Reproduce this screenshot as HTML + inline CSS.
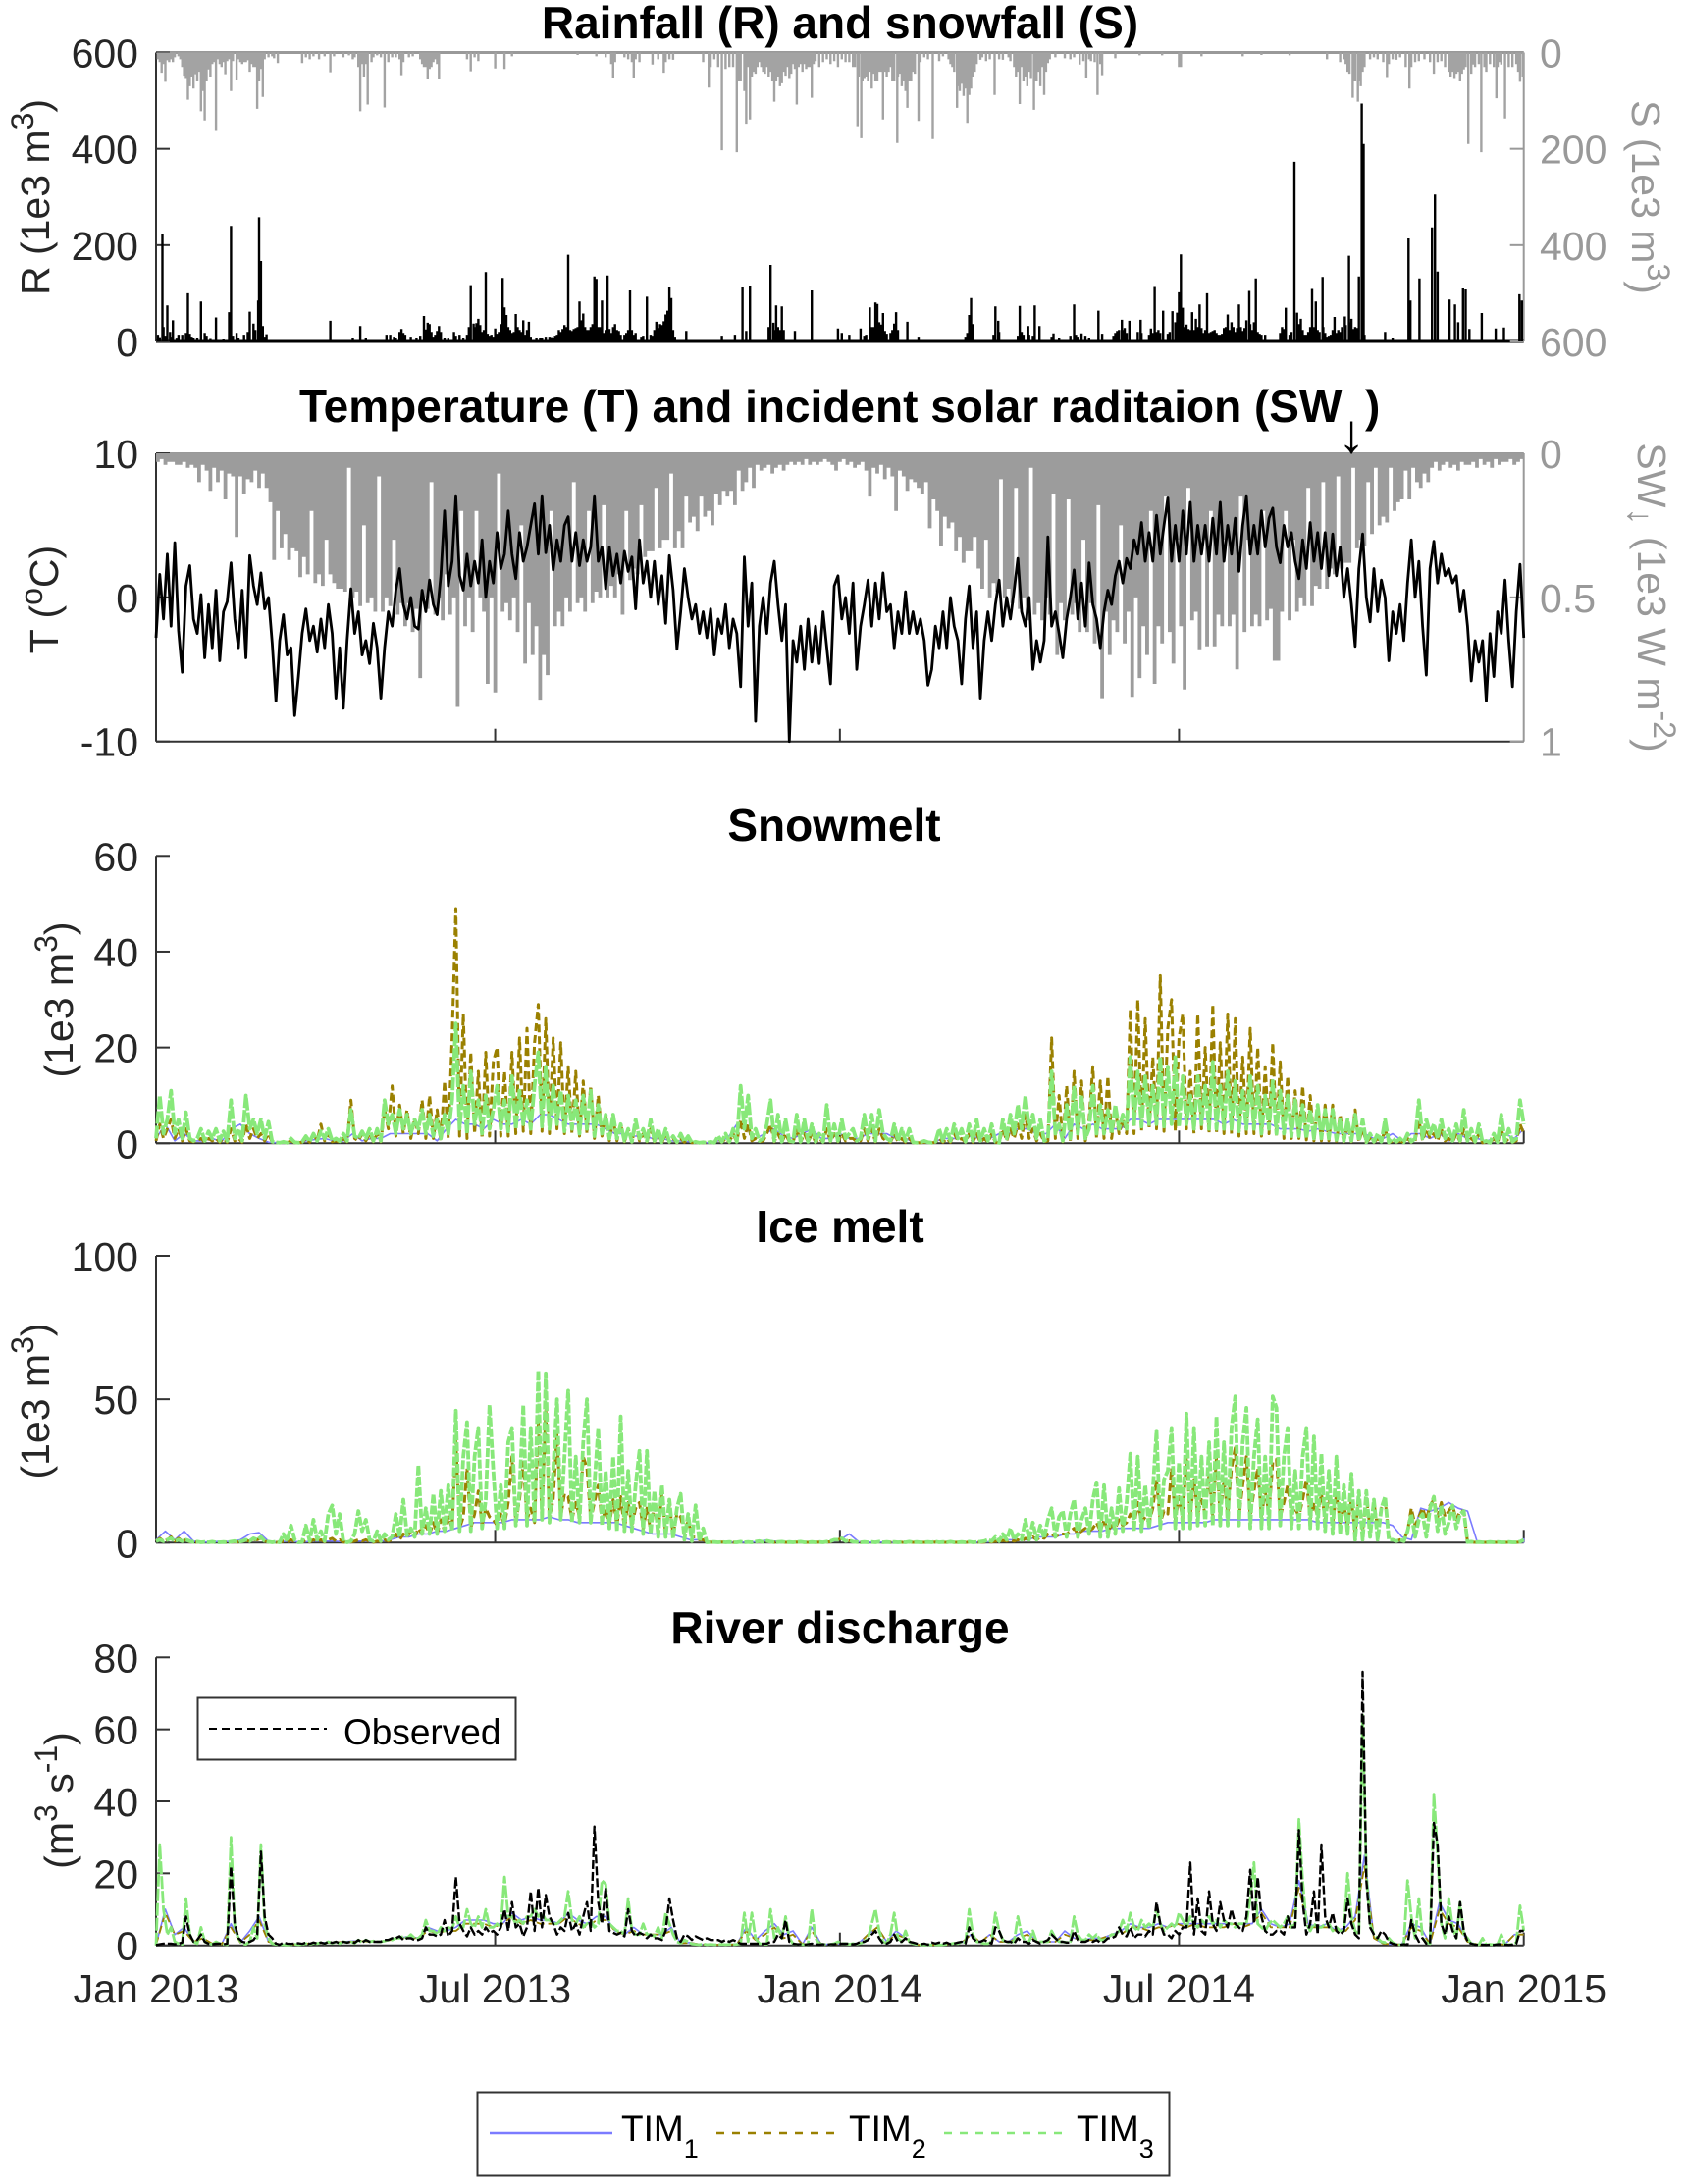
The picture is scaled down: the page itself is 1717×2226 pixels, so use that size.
<!DOCTYPE html>
<html lang="en">
<head>
<meta charset="utf-8">
<title>Rainfall, temperature, melt and river discharge 2013-2014</title>
<style>
html,body{margin:0;padding:0;background:#fff}
svg{display:block}
text{font-family:"Liberation Sans",Arial,sans-serif;fill:#262626}
.title{font-size:46px;font-weight:bold;fill:#000;text-anchor:middle}
.lab{font-size:41px;text-anchor:middle}
.grey{fill:#999}
.leg{font-size:37px;fill:#000}
</style>
</head>
<body>
<svg id="chart" xmlns="http://www.w3.org/2000/svg" width="1717" height="2226" viewBox="0 0 1717 2226">
<rect x="0" y="0" width="1717" height="2226" fill="#fff"/>
<g id="marks"></g>
<g id="axes"></g>

<text class="title" x="856" y="39">Rainfall (R) and snowfall (S)</text>
<text class="title" x="305" y="430" style="text-anchor:start">Temperature (T) and incident solar raditaion (SW</text>
<text x="1377" y="461" font-size="56" text-anchor="middle" style="fill:#000">↓</text>
<text class="title" x="1391" y="430" style="text-anchor:start">)</text>
<text class="title" x="850" y="857">Snowmelt</text>
<text class="title" x="856" y="1266">Ice melt</text>
<text class="title" x="856" y="1675">River discharge</text>

<text class="lab" transform="translate(50,201) rotate(-90)">R (1e3 m<tspan dy="-16" font-size="32">3</tspan><tspan dy="16">)</tspan></text>
<text class="lab grey" transform="translate(1663,201) rotate(90)">S (1e3 m<tspan dy="-16" font-size="32">3</tspan><tspan dy="16">)</tspan></text>
<text class="lab" transform="translate(59,611) rotate(-90)">T (<tspan dy="-16" font-size="32">o</tspan><tspan dy="16">C)</tspan></text>
<text class="lab grey" transform="translate(1669,609) rotate(90)">SW<tspan dy="10" font-size="36" style="fill:#999">↓</tspan><tspan dy="-10"> (1e3 W m</tspan><tspan dy="-16" font-size="32">-2</tspan><tspan dy="16">)</tspan></text>
<text class="lab" transform="translate(74,1019) rotate(-90)">(1e3 m<tspan dy="-16" font-size="32">3</tspan><tspan dy="16">)</tspan></text>
<text class="lab" transform="translate(50,1428) rotate(-90)">(1e3 m<tspan dy="-16" font-size="32">3</tspan><tspan dy="16">)</tspan></text>
<text class="lab" transform="translate(74,1835) rotate(-90)">(m<tspan dy="-16" font-size="32">3</tspan><tspan dy="16"> s</tspan><tspan dy="-16" font-size="32">-1</tspan><tspan dy="16">)</tspan></text>

<g>
<rect x="201.5" y="1730.5" width="324" height="63" fill="#fff" stroke="#333" stroke-width="2"/>
<line x1="213" y1="1762" x2="333" y2="1762" stroke="#000" stroke-width="2" stroke-dasharray="8 5"/>
<text class="leg" x="350" y="1778">Observed</text>
</g>

<g>
<rect x="486.5" y="2132.5" width="705" height="85" fill="#fff" stroke="#333" stroke-width="2"/>
<line x1="499" y1="2174" x2="624" y2="2174" stroke="#7b7bff" stroke-width="2.5"/>
<text class="leg" x="633" y="2182">TIM<tspan dy="17" font-size="27">1</tspan></text>
<line x1="730" y1="2174" x2="851" y2="2174" stroke="#9a8000" stroke-width="2.5" stroke-dasharray="8 8"/>
<text class="leg" x="865" y="2182">TIM<tspan dy="17" font-size="27">2</tspan></text>
<line x1="962" y1="2174" x2="1088" y2="2174" stroke="#88e87a" stroke-width="2.5" stroke-dasharray="8 8"/>
<text class="leg" x="1097" y="2182">TIM<tspan dy="17" font-size="27">3</tspan></text>
</g>
</svg>

<script>
// ---- tick data ----
const xTickDays = [0, 181, 365, 546, 730];
const xTickLabels = ["Jan 2013", "Jul 2013", "Jan 2014", "Jul 2014", "Jan 2015"];
const rainTicks = [0, 200, 400, 600];
const snowTicks = [0, 200, 400, 600];
const tempTicks = [-10, 0, 10];
const solarTicks = [0, 0.5, 1];
const snowmeltTicks = [0, 20, 40, 60];
const iceTicks = [0, 50, 100];
const dischargeTicks = [0, 20, 40, 60, 80];

// ---- sampling intervals (days between samples) ----
const denseStep = 2;
const coarseStep = 5;

// ---- rainfall / snowfall events: [day, 1e3 m3] ----
const rainEvents = [[1,14],[2,9],[3.4,224],[5,12],[6,75],[7.5,20],[9,44],[11,6],[14,14],[17,100],[18,16],[20,8],[24,83],[26,18],[29,5],[32,50],[36,4],[40,240],[39,61],[43,18],[47,14],[50,62],[52,37],[54.5,85],[55,258],[56,167],[57,32],[59,15],[93,43],[105,7],[109,32],[112,7],[123,14],[125,14],[128,7],[131,26],[132,18],[136,10],[139,8],[143,53],[144,25],[145,39],[146,36],[148,10],[151,32],[152,20],[156,6],[159,20],[162,14],[164,8],[167,30],[168,117],[169.5,37],[170,30],[171,38],[172,47],[173,34],[176,144],[178,12],[181,27],[183,20],[185,132],[186,71],[187,55],[189,24],[192,57],[193,30],[196,44],[197,14],[199,41],[205,8],[208,10],[211,9],[213,12],[215,24],[217,26],[218,34],[220,180],[222,22],[224,28],[226,83],[228,58],[229,30],[231,24],[233,36],[234,135],[235,130],[236,30],[238,85],[240,24],[241,137],[243,18],[245,36],[247,22],[250,14],[253,106],[254,24],[256,18],[262,93],[265,12],[267,41],[269,36],[272,56],[273,64],[274,112],[275,90],[283,22],[302,12],[309,14],[313,112],[315,22],[317,114],[327,30],[328,159],[329.5,39],[331,75],[334,73],[341,22],[350,106],[364,27],[366,18],[370,14],[376,27],[379,14],[381,71],[383,30],[384,81],[385,78],[387,35],[388,59],[390,16],[394,37],[395,61],[401,41],[407,10],[432,10],[434,55],[435,90],[436,36],[448,73],[449.5,43],[461,74],[462,20],[465.5,32],[469,75],[471.5,32],[479,17],[490,77],[494,17],[496,12],[503,64],[505,16],[514,24],[515.5,45],[517,28],[519.5,43],[525.5,45],[531,27],[533,113],[535,24],[537.5,64],[542.5,63],[545,60],[546,102],[547,181],[548,70],[550,35],[553,61],[555,47],[557,77],[559,18],[561,100],[563,20],[565,24],[567,14],[569,16],[572,56],[574,40],[576,20],[578,77],[580,22],[582,44],[583.5,105],[585,24],[587,131],[589,16],[592,14],[601,30],[603,70],[606,20],[607.6,373],[609,60],[611,47],[615,20],[617,109],[619,83],[621,20],[622.6,134],[625,10],[629,51],[632,20],[634.5,52],[636.7,178],[638,47],[640,30],[642,135],[643.5,494],[644.5,410],[656,20],[660,8],[668.5,214],[669.5,85],[674.3,131],[681,237],[682.6,305],[684,145],[690.4,87],[693.3,77],[695,40],[697.6,110],[699,108],[701,26],[707.6,59],[715,27],[719.4,29],[727.7,98],[729,85]];
const rainMinorEvents = [[4,30],[8,10],[12,14],[16,18],[19,10],[22,8],[27,12],[41,12],[44,8],[49,20],[53,24],[58,10],[127,10],[130,20],[133,14],[141,12],[147,20],[149,14],[150,22],[154,8],[160,12],[166,14],[174,20],[175,24],[177,16],[179,14],[180,10],[182,16],[184,36],[188,30],[190,18],[191,20],[194,24],[195,20],[198,24],[200,10],[203,8],[206,7],[210,10],[212,8],[214,14],[216,20],[219,30],[221,24],[223,26],[225,30],[227,44],[230,24],[232,30],[237,30],[239,18],[242,26],[244,30],[246,24],[248,14],[251,18],[252,24],[255,14],[259,10],[260,12],[264,14],[266,24],[268,28],[270,34],[271,42],[276,24],[277,10],[330,24],[332,30],[333,24],[335,24],[378,12],[382,30],[386,40],[389,22],[392,18],[393,24],[396,24],[433,18],[447,14],[450,20],[460,12],[463,14],[466,14],[468,12],[478,10],[482,8],[488,12],[491,14],[492,10],[498,8],[511,12],[512,18],[513,22],[516,24],[518,18],[524,20],[526,18],[530,14],[532,18],[534,20],[536,18],[540,16],[541,20],[544,40],[549,30],[551,26],[552,24],[554,24],[556,30],[558,28],[560,24],[562,18],[564,22],[566,18],[568,14],[570,28],[571,30],[573,24],[575,30],[577,28],[579,30],[581,28],[584,36],[586,40],[588,20],[590,14],[600,18],[602,26],[605,14],[610,36],[612,24],[613,14],[614,14],[616,30],[618,30],[620,24],[623,30],[624,18],[626,12],[627,14],[628,24],[630,18],[631,24],[633,30],[635,34],[637,40],[639,26],[641,28],[645,14]];
const snowEvents = [[1,14],[3,42],[5,61],[7,20],[9,20],[12,8],[14,30],[15,48],[16,55],[17,98],[18,70],[19,50],[20,75],[21,45],[22,60],[23,40],[24,122],[25,80],[26,141],[27,60],[28,35],[29,50],[32,163],[35,30],[37,45],[40,80],[43,58],[47,20],[50,40],[52,30],[54,117],[55,60],[57,92],[60,10],[65,22],[78,22],[82,14],[87,14],[93,41],[100,10],[105,14],[109,122],[111,50],[113,108],[115,20],[122,114],[124,20],[131,47],[135,10],[143,30],[145,56],[147,30],[151,56],[168,39],[172,18],[181,33],[186,34],[190,8],[225,5],[235,8],[244,52],[250,10],[255,53],[258,20],[265,25],[271,42],[276,15],[295,73],[302,203],[306,30],[310,207],[312,60],[314,80],[315,148],[316,30],[317,139],[322,20],[327,50],[330,102],[331,60],[333,70],[334,64],[336,48],[338,55],[342,108],[345,40],[348,30],[350,94],[354,30],[360,24],[364,30],[368,20],[372,30],[374.4,153],[376.4,178],[378,55],[380,60],[382,75],[384,60],[386,40],[388,139],[390,50],[393,60],[395.6,188],[398,70],[400,80],[401,115],[403,60],[407,142],[410,10],[414.6,180],[418,18],[425,30],[426,40],[427.5,115],[428,70],[429,80],[430,65],[431,90],[432,75],[433,146],[434,88],[435,75],[436,50],[440,15],[443,18],[447.6,88],[452,15],[456,18],[459,50],[461,107],[463,60],[465,70],[467,55],[468.6,119],[470,60],[472,70],[474,88],[476,22],[485,12],[493,25],[496.5,53],[499,18],[502.5,88],[505,47],[512,12],[525,6],[537,6],[546,30],[547,30],[558,8],[580,8],[590,5],[605,6],[625,14],[632,20],[636,40],[638.7,94],[640,60],[641.5,102],[643,70],[645,30],[652,14],[657,51],[662,15],[669,75],[672,20],[677,14],[682,44],[686,18],[690,40],[693,55],[696,60],[698,35],[700.4,190],[703,25],[707.3,207],[709,30],[715.4,95],[718,25],[720,137],[724,30],[728,61],[729.5,50]];
const snowMinorEvents = [[2,20],[4,24],[6,16],[8,14],[10,10],[13,14],[30,24],[31,20],[33,14],[34,24],[36,20],[38,18],[39,14],[41,18],[44,14],[45,20],[46,24],[48,20],[49,16],[51,24],[53,30],[56,34],[58,14],[62,8],[63,12],[80,10],[84,8],[90,8],[95,8],[103,6],[106,10],[108,30],[110,24],[112,24],[116,10],[118,6],[120,10],[126,10],[128,10],[130,14],[132,20],[137,8],[141,14],[142,24],[144,30],[146,34],[148,20],[149,14],[150,24],[166,14],[170,10],[240,10],[243,24],[245,20],[252,14],[254,20],[256,14],[268,14],[272,20],[274,14],[292,20],[296,30],[298,14],[300,30],[304,34],[308,30],[311,60],[318,50],[319,40],[320,44],[321,30],[323,30],[324,40],[325,44],[326,30],[328,40],[329,60],[332,50],[335,40],[337,30],[339,44],[340,24],[341,34],[343,30],[344,24],[346,24],[347,34],[349,30],[351,24],[352,18],[356,20],[358,14],[362,18],[366,14],[370,20],[373,30],[375,50],[377,60],[379,50],[381,40],[383,44],[385,60],[387,40],[389,40],[391,40],[392,30],[394,60],[396,50],[397,44],[399,60],[402,60],[404,40],[405,44],[408,20],[412,14],[420,8],[423,14],[424,24],[437,40],[438,24],[441,10],[445,14],[450,14],[455,10],[458,30],[460,40],[462,30],[464,50],[466,40],[469,60],[471,40],[473,30],[475,40],[477,14],[480,10],[488,14],[490,10],[495,18],[498,14],[501,20],[504,24],[634,14],[635,24],[637,44],[639,60],[642,60],[644,40],[648,14],[650,10],[655,20],[658,24],[660,14],[664,10],[667,30],[670,30],[674,18],[680,20],[684,20],[688,30],[691,50],[692,40],[694,44],[695,40],[697,44],[699,30],[702,44],[704,30],[706,24],[710,40],[712,24],[714,30],[716,30],[717,20],[722,30],[726,24],[727,40]];

// ---- temperature, degC, every denseStep days ----
const temperature = [-2.8,1.6,-1.5,3,-2,3.8,-2.3,-5.2,0.8,2.2,-1.5,-2.5,0.2,-4.2,-0.5,-3.5,0.5,-4.4,-1,-0.3,2.4,-1.5,-3.5,0.5,-4.2,2.9,0.8,-0.5,1.7,-0.8,0,-3.2,-7.2,-3,-1.2,-4,-3.5,-8.2,-5.5,-2.5,-0.8,-3,-2,-3.8,-1.5,-3.5,-0.5,-2.5,-7,-3.5,-7.7,-3,0.6,-2.5,-1,-4,-3,-4.6,-1.8,-3.5,-7,-3.5,-1,-2,0.5,2,-0.5,-1.5,0,-2,-2.2,0.5,-1,1.2,-0.5,-1.2,1.5,6,0.8,2.5,7,1.5,0.5,3,0.8,2.5,1,4,0,2.5,1,4.5,2,3,6,3,1.3,4.5,2.5,3.5,5,6.5,3,7,3.1,5,1.9,4,2.5,5,5.6,2.5,4.5,2.2,4,2.5,3.5,7,2.5,3.5,0.6,3.5,1.5,3,1,3.2,1.8,2.8,-0.8,4,1,2.5,0,2.5,-0.5,1.5,-1.8,2.9,0.5,-3.6,-1,2,0,-1.5,-0.5,-2.5,-1,-2.8,-0.8,-4,-1.5,-2.5,-0.5,-3.5,-1.5,-2.5,-6.2,2.8,-2,1,-8.6,-2,0,-2.5,1,2.5,-0.5,-3,-0.5,-10,-3,-4.5,-2,-5,-1.5,-4.5,-2,-4.6,-1,-3.5,-6,0.8,1.5,-1.5,0,-2.5,1,-5,-2,-0.5,1.2,-2,1,-1.5,1.7,-1,-0.5,-3.5,-1,-2.5,0.4,-2.5,-1,-2.5,-1.5,-3,-6.1,-5,-2,-3.5,-1,-3.5,0,-2,-3,-6,-1.5,0.8,-3.5,-1,-7,-3,-1,-3,-0.5,1.2,-2,0,-1.5,0.5,2.7,-1,-2,0,-5,-3,-4.5,-3,4.2,-2,-1,-2.5,-4.2,-1.5,0,1.9,-1.5,1,-2,2.4,-0.5,-1.5,-3.5,-1,0.5,-0.5,1.5,2.5,1,2.7,2,4,3,5.2,2.5,4.5,2.5,5.7,3,5,6.9,2.5,5,2.5,6,3,6.6,2.5,5,3,5,2.5,5.5,3,6.6,2.5,5,3,5.5,1.8,5,7,3,5,3,6,3.5,5.5,6.2,3.5,2.4,5,3.5,4.5,2.5,1.3,4,2,5.2,2.5,4.5,2,4.5,1.5,4.4,1.5,3.5,0,2,-0.5,-3.4,2,4.4,0,-1.7,2,-1,1.2,0,-4.4,-1,-2.5,-0.5,-3,1,4,0,2.5,-2,-5.4,2,3.9,1,3,1.5,2,1,1.5,-1,0.5,-2,-5.8,-3,-4.5,-3,-7.2,-2.5,-5.5,-1,-2.5,1.2,-3,-6.2,-1,2.3,-2.8];

// ---- incident solar radiation, 1e3 W m-2, every denseStep days ----
const solar = [.03,.02,.04,.03,.03,.04,.04,.03,.05,.04,.05,.1,.04,.06,.13,.05,.1,.06,.16,.07,.08,.29,.08,.14,.09,.1,.06,.12,.07,.12,.17,.37,.2,.33,.28,.37,.33,.34,.43,.36,.42,.2,.45,.42,.46,.3,.42,.45,.47,.47,.48,.05,.5,.48,.53,.25,.52,.5,.55,.08,.55,.5,.53,.3,.56,.52,.6,.52,.62,.54,.78,.5,.54,.1,.56,.5,.58,.42,.56,.5,.88,.2,.6,.5,.62,.2,.5,.55,.8,.5,.83,.07,.55,.52,.58,.5,.62,.25,.73,.52,.7,.6,.855,.7,.77,.2,.6,.55,.6,.5,.55,.1,.52,.5,.55,.2,.52,.48,.5,.18,.5,.46,.5,.42,.56,.2,.44,.4,.42,.18,.36,.34,.34,.12,.33,.3,.3,.07,.33,.27,.33,.15,.24,.22,.27,.15,.22,.2,.25,.14,.18,.13,.15,.13,.18,.06,.13,.1,.05,.12,.04,.06,.05,.04,.07,.05,.04,.06,.04,.03,.04,.03,.04,.02,.04,.03,.04,.03,.02,.03,.04,.06,.03,.02,.04,.03,.05,.04,.03,.06,.15,.05,.07,.04,.09,.05,.08,.2,.06,.08,.13,.09,.1,.12,.14,.1,.26,.16,.2,.32,.22,.26,.24,.34,.29,.38,.34,.34,.29,.4,.47,.3,.5,.45,.48,.09,.5,.47,.52,.12,.54,.5,.58,.05,.56,.52,.58,.5,.56,.14,.7,.52,.58,.16,.56,.52,.62,.3,.62,.52,.66,.18,.85,.55,.7,.58,.62,.25,.66,.55,.845,.5,.78,.6,.7,.2,.8,.6,.66,.15,.62,.73,.3,.6,.82,.12,.58,.55,.68,.3,.67,.2,.67,.56,.6,.3,.6,.56,.75,.15,.62,.3,.6,.56,.6,.2,.58,.54,.72,.72,.55,.2,.58,.3,.55,.5,.53,.12,.53,.46,.47,.1,.47,.4,.42,.08,.4,.38,.38,.05,.33,.3,.32,.1,.28,.05,.25,.22,.24,.05,.2,.17,.16,.06,.16,.05,.1,.12,.07,.1,.05,.03,.06,.04,.03,.05,.04,.06,.03,.04,.04,.03,.05,.02,.04,.03,.05,.02,.04,.03,.03,.02,.04,.03,.02,.03];

// ---- snowmelt, 1e3 m3 ----
const snowmeltTim1 = [1,4,.5,2,.5,.5,1,.3,3,4,2,1,.2,.1,.1,.2,.5,.8,1,.5,.5,2,.5,1,1,2,2,2,2,2,.5,3,5,4,4,3,5,4,4,5,4,6,6,5,4,4,4,4,3,2,2,1.5,1.5,1,1,.5,.5,.3,.1,.1,.5,1,4,3,1,2,3,1.5,1,2,3,1,1,2,1,1,2,2,2,1,1,.1,.1,.2,1,1,1,1.5,1,1,2,2,3,3,2,2,4,1,4,3,4,3,3,3,5,5,4,5,5,5,5,5,5,5,4,5,4,4,4,4,3,3,3,2.5,3,2.5,2,2,2,2,1,1,2,.5,2,2,1,2,.5,2,1,1,.5,1,2,1,3];
const snowmeltTim2 = [.5,4,1,3,5,1,3,.5,3,.5,.3,.5,1,.2,1,.5,1,.2,1,.2,3,.5,1,.2,4,1,3,1,2,.5,2,.2,.1,.1,.2,.1,.5,.1,.1,.2,1,.2,2,.5,4,.5,2,.3,.5,.2,1,.3,9,1,.5,2,.5,2,.3,2,.3,7,3,12,1.5,8,2,7,1,5,2,9,1,10,1,7,.5,13,1,22,49,1.5,27,1,19,2,15,1,19,1.5,17,20,1.5,15,1.5,19,2,22,2.5,24,2,21,29,2.5,26,2,22,3,21,2,16,2,15,1.5,13,2,12,1,10,1.5,6,.5,5,.5,4,.3,3,.2,4,.5,2,.3,3,.3,2,.1,2,.2,1,.1,1,.2,1,.1,.2,.1,.1,.1,.2,.1,1,.2,1,.2,2,.2,5,1,4,.5,1,.3,.5,2,4,.3,2,.2,2,.3,.2,3,.2,2,.2,2,.2,1,.2,3,.3,2,.3,2,.5,1,1,.3,.5,3,.5,3,.3,3,1,.5,.2,2,.3,1,.2,1,.1,.1,.1,.2,.1,.1,.2,1,.2,1,.2,2,.5,1,.2,2,.2,2,.2,1,.2,2,.2,.1,3,.5,3,1,4,1,6,1,3,.5,2,.3,.5,22,1,10,.3,12,.5,15,1,13,.5,5,16,1,13,1,14,1,7,2,5,2,28,2,30,2.5,26,3,18,3,35,2.5,24,30,2.5,22,27,3,15,2,27,3,20,2,29,2,21,2,27,2,26,1.5,18,2,24,2,20,1.5,16,2,21,1.5,17,1,14,1,11,1,12,.7,10,.5,8,.5,8,.5,8,.4,6,.3,4,.3,7,.3,3,.2,1,.2,1,.2,3,.1,.5,.2,.5,.1,1,.2,.5,5,.5,3,1,2,.5,3,.5,1,.2,2,.3,3,.3,1,.2,2,.1,.3,.1,1,.1,3,.2,1,.2,.5,4,2];
const snowmeltTim3 = [1,10,2,5,11,2,5,1,6.5,1,.5,1,3,.5,2.5,1,3,.5,2.5,.5,9,1,3,.5,10,3,5,2,5,1,4.5,.3,.2,.1,.3,.1,1,.2,.1,.3,1.5,.3,2,.5,2.5,1,3,.5,1,.4,2,.5,7,1.5,1,2.5,1,3,.5,3,.5,9,4,6,2,7,3,6,2,5,3,7,2,6,1.5,5,1,6,2,9,25,3,12,2,15,4,9,2,10,3,7,12,3,9,2.5,14,3,11,4,9,3,12,19,3.5,16,3,12,4,11,2.5,10,3,9,2,10,3,11,1.5,8,2,6,1,6,1,4,.5,3,.3,5,1,3,.5,5,.5,3,.2,3,.3,1.5,.2,2,.3,1.5,.1,.3,.1,.2,.1,.3,.1,1.5,.3,2,.3,3,.3,12,3,10,1,3,.5,1,4,9,.5,6,.3,5,.5,.3,6,.3,5,.3,4,.3,2,.3,8,.5,4,.5,5,1,2,3,.5,1,6,1,6,.5,7,2,1,.5,4,.5,3,.5,3,.2,.1,.2,.5,.2,.1,.3,3,.5,3,.5,4,1,3,.3,4,.5,5,.5,3,.5,4,.3,.1,5,1,6,2,8,3,10,3,6,1,5,.5,1,15,2,4,.5,8,1,12,2,10,1,3,12,2,8,2,7,2,8,3,6,3,18,4,15,3.5,14,4,12,4,18,3.5,16,4,18,3.5,14,4,10,3,14,4,12,3,17,3,12,3,15,3,13,2.5,11,3,14,3,12,2,10,3,13,2,11,2,10,1.5,9,1.5,8,1,7,1,8,1,7,1,7,.7,5,.5,5,.5,6,.5,5,.2,2,.3,2,.3,5,.2,1,.3,1,.2,2,.3,1,9,1,5,2,4,1,5,1,3,.5,4,.5,7,.5,3,.3,4,.2,.5,.1,2,.2,6,.3,3,.3,1,9,4];

// ---- ice melt, 1e3 m3 ----
const iceTim1 = [1,4,1,4,.5,.2,.2,.5,.3,1,3,3.5,.5,.2,.5,.3,.3,.5,.5,.5,.3,.5,.5,.3,.5,1,2,2,3,3,4,4,5,6,7,7,7,7,8,8,8,8,9,8,8,7,7,7,7,7,6,5,4,3,3,3,2,1,1,.2,.1,.1,.2,.1,.3,.8,.5,.2,.2,.2,.3,.2,.2,1,3,.3,.1,.2,.1,.1,.1,.1,.1,.1,.1,.1,.1,.1,.2,.3,.5,1,1,1,2,2,2,3,3,4,4,4,5,5,5,5,5,6,7,7,7,7,7,8,8,8,8,8,8,8,8,8,8,8,7,7,7,7,7,7,7,7,6,2,1,12,11,12,14,12,11,.5,.2,.1,.1,.1,.2,1.5];
const iceTim2 = [.5,1.5,.5,1,2,.5,1.5,.5,1,.3,.1,.2,.1,.1,.1,.2,.1,.1,.1,.1,.2,.3,.2,.4,.8,.5,1,1,1.5,.5,.2,.1,.1,.1,.5,.2,1,.3,.1,.1,1,.2,1,.3,1,.2,1,1.5,.5,1,.2,.1,.2,.5,1,.5,1,.3,.1,.5,.3,1,.5,1,3,1,3,2,4,2,5,3,6,3,7,3,8,4,9,5,36,5,9,26,5,10,18,6,12,9,8,6,10,6,14,30,7,15,28,8,12,7,42,9,46,8,15,38,9,17,16,8,14,9,30,26,8,14,20,7,12,6,15,6,16,5,14,6,12,14,5,12,4,13,4,17,3,13,3,10,9,3,8,2,2,1,1,.2,.2,.1,.1,.2,.1,.2,.1,.1,.2,.1,.2,.1,.2,.3,.2,.4,.2,.1,.2,.2,.1,.1,.1,.2,.2,.1,.1,.1,.1,.2,.1,.2,.3,1,1,1.5,.5,.6,.3,.2,.1,.1,.1,.1,.1,.2,.1,.1,.1,.1,.1,.1,.1,.2,.1,.1,.1,.1,.1,.1,.2,.1,.1,.1,.2,.1,.1,.1,.1,.2,.1,.1,.1,.2,.3,.2,.5,.2,.8,.5,1,.5,1,.5,1.5,1,2,1,2,1.5,3,3,2,3,3,3,4,5,3,4,5,4,5,7,4,8,4,6,5,8,6,7,10,6,14,7,9,7,12,22,7,11,10,26,8,16,8,30,9,22,10,15,10,24,9,30,9,22,10,26,33,9,20,30,9,18,26,9,18,10,28,29,9,14,20,10,12,9,15,22,8,14,9,17,8,16,7,17,7,13,6,15,3,16,4,16,5,14,5,12,15,2,1,.5,1,1,4,12,6,9,12,8,13,15,9,14,9,11,13,8,11,11,.2,.2,.1,.1,.1,.1,.1,.1,.1,.1,.1,.1,.1,.1,.2,1];
const iceTim3 = [.5,1,.5,1,1.5,.5,1,.5,1,.5,.2,.3,.1,.2,.1,.3,.1,.1,.2,.1,.3,.5,.2,.5,1,.5,1.5,1,2,.5,.3,.1,.3,.1,3,.5,6,1,.1,.2,6,.5,8,1,4,.5,10,13,3,10,.5,.1,.5,3,11,4,8,1,.5,4,.5,3,1,2,10,2,15,2.5,5,2,27,3,12,3,17,3,18,4,20,4,46,4,30,42,4,30,40,5,15,48,25,5,20,5,35,40,6,18,48,6,40,7,60,8,59,7,25,50,8,30,53,7,30,7,35,50,7,20,40,6,25,5,30,4,44,4,25,4,20,32,3,32,3,18,2,20,2,15,1.5,12,17,1,10,.5,13,.5,5,.1,.2,.2,.1,.2,.1,.2,.1,.1,.3,.1,.2,.1,.3,.5,.2,.6,.3,.1,.2,.3,.1,.2,.1,.2,.3,.1,.1,.2,.1,.2,.1,.3,.5,1,1,1.5,.5,.8,.3,.2,.1,.2,.1,.2,.1,.3,.1,.2,.1,.2,.1,.2,.1,.3,.1,.2,.1,.1,.2,.1,.3,.1,.2,.1,.3,.1,.1,.2,.1,.3,.1,.2,.3,.5,1,.5,2,.5,3,1,5,1,3,1,8,1,7,1,6,1.5,8,12,2,9,11,2,10,15,2,8,12,3,15,21,2,20,2,12,3,19,4,14,31,4,30,4,20,5,18,39,5,22,25,40,5,28,5,45,5,40,6,30,6,35,6,44,6,35,6,40,51,6,35,47,5,30,43,5,30,5,51,47,6,30,40,5,25,5,30,40,5,37,5,31,4,25,3,30,3,20,3,24,1,18,1,18,2,15,1,12,16,1,1,.5,1,.5,4,10,2,8,10,2,12,16,4,13,3,7,13,5,10,11,.2,.3,.1,.2,.1,.1,.2,.1,.2,.1,.1,.2,.1,.1,.3,1];

// ---- river discharge, m3 s-1 ----
const dischargeTim1 = [.2,10,3,5,1,2,.5,.3,6,.8,4,8,1,.3,.2,.3,.5,.6,.8,.8,1,1.2,1.2,1,1,1.5,2,2.5,2,5,4,4,5,7,7,7,6,6,9,7,8,7,7,6,9,7,6,8,8,4,3,5,3,3,3,5,.6,.8,.3,.2,.2,.3,.3,5,1.5,4,6,3,4,.3,5,.3,.3,.5,.5,.6,3,5,1,4,2,.2,.1,.1,.2,.5,.8,3,.8,3,1,1,3,4,1,1,1,4,2,1.5,2,2,3,4,6,5,5,6,5,6,6,6,6,6,6,6,6,6,10,6,5,6,18,6,5,6,4,5,8,25,2,.5,.3,.3,6,5,.5,12,7,6,1,.3,.3,.3,.3,3,3];
const dischargeTim2 = [.2,9,3,4,1,2,.5,.3,5,.8,3,7,1,.3,.2,.3,.5,.6,.7,.8,1,1,1.2,1,1,1.5,2,2,2,4,3.5,4,4,6,6,6,5,6,8,6,7,6,6,6,8,6,5,7,7,4,3,4,3,3,3,4,.6,.7,.3,.2,.2,.2,.3,4,1.5,3,5,2,3,.3,4,.3,.3,.5,.4,.5,3,5,1,3,2,.2,.1,.1,.2,.4,.7,3,.8,3,1,1,2,3,1,1,1,3,2,1.5,1.5,2,3,3,5,5,4,5,5,6,5,6,5,5,5,6,5,6,9,5,5,5,16,5,5,5,4,4,7,22,2,.5,.3,.3,5,4,.5,10,6,5,1,.3,.2,.3,.3,3,3];
const dischargeTim3 = [0,28,10,3,5,1,.5,.3,13,3,1,.5,5,1,.5,.3,1,.5,.3,.2,30,5,2,.5,.3,1,5,2,28,6,2,.5,.3,.2,.2,.1,.2,.3,.2,.3,.5,.3,.6,.5,.8,.5,1,.6,1,.5,1,.8,1,.6,1.5,.8,1.5,1,1.2,1,1,1.2,1.5,1.5,2,2,2.5,2,3,2,2,3,7,4,4,3,5,4,5,4.5,8,5,5,10,6,5,8,5,10,5,5,6,5,19,8,8,6,7,6,8,8,10,8,9,7,7,6,6,7,8,15,7,6,8,5,6,7,5,6,18,17,6,5,4,4,3,13,4,3,3,6,3,3,2.5,5,2,9,6,3,1,.6,1.5,1,.4,.3,.2,.4,.2,.3,.2,.2,.3,.2,.3,.2,.3,.5,9,1,9,2,.5,.3,.3,10,2,5,2,8,2,.5,.3,.3,.2,.3,10,2,.5,.3,.2,.3,.5,1,.5,.5,.3,.5,.4,.6,1,2,6,10,4,1,.6,3,9,2,1,4,1,.5,.3,.2,.1,.2,.1,.2,.1,.2,.3,.4,.6,.5,1,.8,10,3,1,.8,.5,.5,1,9,4,1.5,.8,1,1,8,3,1,1,4,1,1,1,1,4,2,1,1,.8,1,8,3,1.5,1.5,3,2,3,1.5,1.5,2,3,3,4,7,4,9,5,4,7,5,6,5,10,6,4,5,6,5,9,7,5,8,6,5,7,6,8,6,7,5,7,6,6,5,6,6,6,13,23,6,5,4,6,7,6,5,6,8,5,6,35,18,6,4,6,5,5,6,6,4,5,4,4,20,8,4,3,64,20,6,3,2,1,.8,2,.8,.3,.2,.3,18,8,2,13,2,.8,.5,42,25,6,2,13,5,2,12,3,2,.5,.3,.2,2,.2,.3,.2,.3,3,.3,.2,.3,.8,11,4];
const dischargeObserved = [.1,.3,.5,.5,.5,.3,.5,.8,8,3,1,1.5,3,1,.5,.3,.5,.5,.3,.5,22,6,2,1,.8,1,1.5,3,26,8,3,2,.5,.2,.8,.5,.4,.5,.6,.4,.8,.4,.8,.5,.8,.5,1,.7,1,.6,1,.8,1,.7,1.5,.8,1.5,1,1,1,1,1.5,1.5,2,2,2.5,1.5,2,2,1.5,1.5,2,5,3,3,2.5,3,7,2.5,4,19,6,4,2.5,5,3,4,3,5,3.5,4,3,5,10,4,12,5,6,2.5,5,15,4,16,5,14,8,6,3,5,4,9,4,6,3,8,12,4,33,12,6,16,4,3.5,3,3.5,2.5,10,4,2.5,3.5,3,2,3,2,2,1.5,4,13,7,2,1,3,2.5,1.5,2.5,2,1.5,2,1.5,1.5,1.5,1,1.5,1,1.5,1,.5,.5,.5,.5,.5,.5,.5,.5,1,1,3,2,7,1,.5,.3,.3,.2,.3,.5,.3,.2,.3,.2,.3,.3,.5,.5,.5,.5,.3,.5,1,1,1.5,3,4,2,.5,.5,1,3,1,1,2,1,.8,.5,.3,.5,.2,.8,.5,.8,.5,.8,.3,.5,.8,1,.5,5,2,1,1,1.5,1,.5,5,4,1.5,1,1,.5,2,1,1,.5,1.5,1,.5,1,1.5,3,2,1,1,.8,.8,4,1.5,1,1,1.5,1,1.5,.8,1,2,2,2.5,5,3,2.5,5,2,3,3,2.5,4,3,12,6,3,3,2,4,3,5,5,23,3,13,4,3,15,6,4,12,7,5,10,6,5,4,8,21,6,19,8,4,3,3,4,4,3,8,5,5,32,12,3,6,15,3,28,8,5,9,4,3,4,13,6,3,2,76,18,5,3,2,4,3,1,.5,.2,.1,.3,.2,7,3,1,2,.5,.5,34,28,6,3,8,4,2,12,4,1,.5,.2,.1,.2,.1,.2,.1,.3,.3,.2,.1,.2,.5,4,4];

// ---- layout and axis functions ----
const SVGNS = "http://www.w3.org/2000/svg";
const marks = document.getElementById("marks");
const axes = document.getElementById("axes");
const plotLeft = 159, plotRight = 1552.7, totalDays = 730;
const COLOR_AXIS = "#333", COLOR_GREY = "#999";
const COLOR_T1 = "#7b7bff", COLOR_T2 = "#9a8000", COLOR_T3 = "#88e87a";

function xScale(day) { return plotLeft + day / totalDays * (plotRight - plotLeft); }
function yLinear(top, bottom, lo, hi) { return function (v) { return bottom - (v - lo) / (hi - lo) * (bottom - top); }; }
function yReversed(top, bottom, lo, hi) { return function (v) { return top + (v - lo) / (hi - lo) * (bottom - top); }; }

const yRain = yLinear(53.5, 348, 0, 600);
const ySnow = yReversed(53.5, 348, 0, 600);
const yTemp = yLinear(462, 755.7, -10, 10);
const ySolar = yReversed(462, 755.7, 0, 1);
const ySnowmelt = yLinear(872.3, 1165.3, 0, 60);
const yIce = yLinear(1280, 1572.3, 0, 100);
const yDischarge = yLinear(1689.3, 1982.7, 0, 80);

function mk(tag, attrs, parent) {
  const el = document.createElementNS(SVGNS, tag);
  for (const k in attrs) el.setAttribute(k, attrs[k]);
  parent.appendChild(el);
  return el;
}
function seriesD(vals, step, yFn) {
  let d = "";
  for (let i = 0; i < vals.length; i++) {
    d += (i ? "L" : "M") + xScale(Math.min(i * step, totalDays)).toFixed(1) + " " + yFn(vals[i]).toFixed(1);
  }
  return d;
}
function drawSeries(vals, step, yFn, color, width, dash) {
  const attrs = { d: seriesD(vals, step, yFn), fill: "none", stroke: color, "stroke-width": width, "stroke-linejoin": "round" };
  if (dash) attrs["stroke-dasharray"] = dash;
  return mk("path", attrs, marks);
}
function stemsD(events, yFn, base) {
  let d = "";
  for (let i = 0; i < events.length; i++) {
    const x = xScale(events[i][0]).toFixed(1);
    d += "M" + x + " " + yFn(base).toFixed(1) + "L" + x + " " + yFn(events[i][1]).toFixed(1);
  }
  return d;
}
function hLine(x1, x2, y, color, w, parent) {
  return mk("line", { x1: x1, x2: x2, y1: y, y2: y, stroke: color, "stroke-width": w }, parent);
}
function vLine(x, y1, y2, color, w, parent) {
  return mk("line", { x1: x, x2: x, y1: y1, y2: y2, stroke: color, "stroke-width": w }, parent);
}
function yTickSet(ticks, yFn, axisX, dir, color, labelX, anchor, fmt) {
  for (let i = 0; i < ticks.length; i++) {
    const y = yFn(ticks[i]);
    const tk = hLine(axisX, axisX + dir * 14, y, color, 2, axes);
    
    
    const t = mk("text", { x: labelX, y: y + 15, "font-size": 41, "text-anchor": anchor }, axes);
    
    
    t.textContent = fmt ? fmt(ticks[i]) : String(ticks[i]);
    if (color === COLOR_GREY) t.setAttribute("style", "fill:#999");
  }
}
function xTickSet(bottom, dayList) {
  for (let i = 0; i < dayList.length; i++) {
    const tk = vLine(xScale(dayList[i]), bottom, bottom - 13, COLOR_AXIS, 2, axes);
    
    
  }
}

// ---- rain and snow panel ----
const snowStems = mk("path", { d: stemsD(snowEvents.concat(snowMinorEvents), ySnow, 0), stroke: "#a3a3a3", "stroke-width": 2.4, fill: "none" }, marks);


const rainStems = mk("path", { d: stemsD(rainEvents.concat(rainMinorEvents), yRain, 0), stroke: "#000", "stroke-width": 2.4, fill: "none" }, marks);



// ---- temperature and solar panel: stepped bars from the solar array ----
let solarArea = "M" + xScale(0).toFixed(1) + " " + ySolar(0).toFixed(1);
for (let i = 0; i < solar.length; i++) {
  const yv = ySolar(solar[i]).toFixed(1);
  solarArea += "L" + xScale(i * denseStep).toFixed(1) + " " + yv + "L" + xScale(Math.min(i + 1, solar.length - 1) * denseStep).toFixed(1) + " " + yv;
}
solarArea += "L" + xScale((solar.length - 1) * denseStep).toFixed(1) + " " + ySolar(0).toFixed(1) + "Z";
const solarFill = mk("path", { d: solarArea, fill: "#9c9c9c" }, marks);


const tempLine = drawSeries(temperature, denseStep, yTemp, "#000", 2.8);



// ---- axes ----
function frameAxes() {
  // panel 1
  const p1l = vLine(plotLeft, 53.5, 348, COLOR_AXIS, 2, axes);
  
  
  const p1r = vLine(plotRight, 53.5, 348, COLOR_GREY, 2, axes);
  
  
  const p1t = hLine(plotLeft, plotRight, 53.5, COLOR_GREY, 3, axes);
  
  
  const p1b = hLine(plotLeft, plotRight, 348, "#000", 3, axes);
  
  
  yTickSet(rainTicks, yRain, plotLeft, 1, COLOR_AXIS, 141, "end");
  yTickSet(snowTicks, ySnow, plotRight, -1, COLOR_GREY, 1569, "start");
  // panel 2
  const p2l = vLine(plotLeft, 462, 755.7, COLOR_AXIS, 2, axes);
  
  
  const p2r = vLine(plotRight, 462, 755.7, COLOR_GREY, 2, axes);
  
  
  const p2t = hLine(plotLeft, plotRight, 462, COLOR_GREY, 2, axes);
  
  
  const p2b = hLine(plotLeft, plotRight, 755.7, COLOR_AXIS, 2, axes);
  
  
  yTickSet(tempTicks, yTemp, plotLeft, 1, COLOR_AXIS, 141, "end");
  yTickSet(solarTicks, ySolar, plotRight, -1, COLOR_GREY, 1569, "start");
  xTickSet(755.7, xTickDays.slice(1, 4));
  // panels 3-5
  const panelDefs = [
    [872.3, 1165.3, snowmeltTicks, ySnowmelt],
    [1280, 1572.3, iceTicks, yIce],
    [1689.3, 1982.7, dischargeTicks, yDischarge]
  ];
  for (let i = 0; i < panelDefs.length; i++) {
    const p = panelDefs[i];
    const l = vLine(plotLeft, p[0], p[1], COLOR_AXIS, 2, axes);
    
    
    const b = hLine(plotLeft, plotRight, p[1], COLOR_AXIS, 2, axes);
    
    
    yTickSet(p[2], p[3], plotLeft, 1, COLOR_AXIS, 141, "end");
    xTickSet(p[1], xTickDays);
  }
  // date labels
  for (let i = 0; i < xTickDays.length; i++) {
    const t = mk("text", { x: xScale(xTickDays[i]), y: 2041, "font-size": 41, "text-anchor": "middle" }, axes);
    
    
    t.textContent = xTickLabels[i];
  }
}
frameAxes();

// ---- melt panels ----
const olDash = "8 4";
const grDash = "13 2";
const s1 = drawSeries(snowmeltTim1, coarseStep, ySnowmelt, COLOR_T1, 1.6);


const s2 = drawSeries(snowmeltTim2, denseStep, ySnowmelt, COLOR_T2, 3, olDash);


const s3 = drawSeries(snowmeltTim3, denseStep, ySnowmelt, COLOR_T3, 3.8, grDash);



const i1 = drawSeries(iceTim1, coarseStep, yIce, COLOR_T1, 1.6);


const i2 = drawSeries(iceTim2, denseStep, yIce, COLOR_T2, 3, olDash);


const i3 = drawSeries(iceTim3, denseStep, yIce, COLOR_T3, 3.8, "9 2");



// ---- discharge panel ----
const q1 = drawSeries(dischargeTim1, coarseStep, yDischarge, COLOR_T1, 1.6);


const q2 = drawSeries(dischargeTim2, coarseStep, yDischarge, COLOR_T2, 1.8, olDash);


const q3 = drawSeries(dischargeTim3, denseStep, yDischarge, COLOR_T3, 2.8, grDash);


const qo = drawSeries(dischargeObserved, denseStep, yDischarge, "#000", 2.4, "9 3");



// melt lines sit above the axes, matching the reference
document.getElementById("chart").insertBefore(axes, marks);
</script>
</body>
</html>
